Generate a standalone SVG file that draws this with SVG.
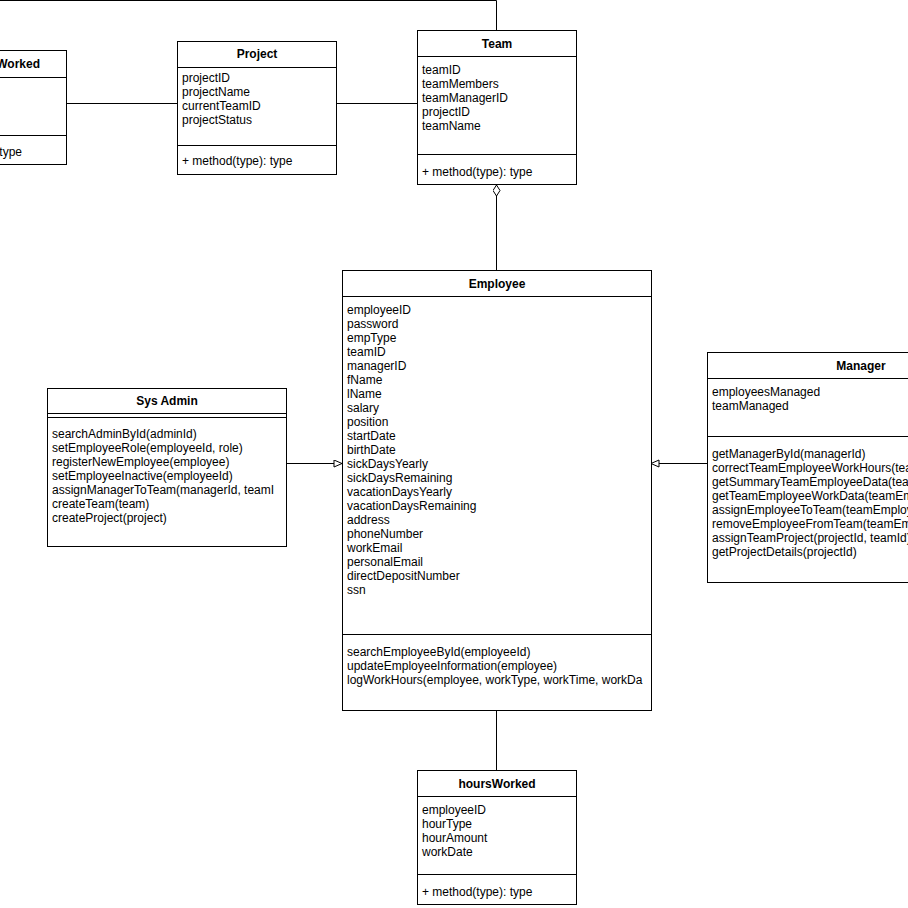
<svg xmlns="http://www.w3.org/2000/svg" width="908" height="908" viewBox="0 0 908 908">
<style>
.box{fill:#fff;stroke:#000;stroke-width:1}
.ln{stroke:#000;stroke-width:1;fill:none}
text{font-family:"Liberation Sans",Arial,sans-serif;font-size:12px;fill:#000}
.t{font-weight:bold;text-anchor:middle}
</style>
<defs>
<marker id="tri" markerWidth="12" markerHeight="10" refX="9" refY="4" orient="auto" markerUnits="userSpaceOnUse">
<path d="M1,0.5 L9,4 L1,7.5 Z" fill="#fff" stroke="#000" stroke-width="1"/>
</marker>
<marker id="dia" markerWidth="14" markerHeight="10" refX="12" refY="4" orient="auto" markerUnits="userSpaceOnUse">
<path d="M1,4 L6.5,0.5 L12,4 L6.5,7.5 Z" fill="#fff" stroke="#000" stroke-width="1"/>
</marker>
</defs>
<rect width="908" height="908" fill="#fff"/>
<g id="connectors">
<path class="ln" d="M0,0.5 H496.5 V30.5"/>
<path class="ln" d="M67,103.5 H177"/>
<path class="ln" d="M336,103.5 H417"/>
<path class="ln" d="M496.5,270 V185" marker-end="url(#dia)"/>
<path class="ln" d="M286,463.5 H342" marker-end="url(#tri)"/>
<path class="ln" d="M707,463.5 H651" marker-end="url(#tri)"/>
<path class="ln" d="M496.5,710 V770"/>
</g>
<g id="hoursWorkedLeft">
<rect class="box" x="-93.5" y="50.5" width="160" height="114"/>
<line class="ln" x1="-93" y1="77.5" x2="67" y2="77.5"/>
<line class="ln" x1="-93" y1="135.5" x2="67" y2="135.5"/>
<text x="40" y="68" style="font-weight:bold;text-anchor:end">hoursWorked</text>
<text x="22" y="156" style="text-anchor:end">+ method(type): type</text>
</g>
<g id="project">
<rect class="box" x="177.5" y="41.5" width="159" height="133"/>
<line class="ln" x1="177" y1="67.5" x2="336" y2="67.5"/>
<line class="ln" x1="177" y1="145.5" x2="336" y2="145.5"/>
<text class="t" x="257" y="58">Project</text>
<text x="182" y="82">projectID</text>
<text x="182" y="96">projectName</text>
<text x="182" y="110">currentTeamID</text>
<text x="182" y="124">projectStatus</text>
<text x="182" y="165">+ method(type): type</text>
</g>
<g id="team">
<rect class="box" x="417.5" y="30.5" width="159" height="154"/>
<line class="ln" x1="417" y1="56.5" x2="576" y2="56.5"/>
<line class="ln" x1="417" y1="154.5" x2="576" y2="154.5"/>
<text class="t" x="497" y="48">Team</text>
<text x="422" y="74">teamID</text>
<text x="422" y="88">teamMembers</text>
<text x="422" y="102">teamManagerID</text>
<text x="422" y="116">projectID</text>
<text x="422" y="130">teamName</text>
<text x="422" y="176">+ method(type): type</text>
</g>
<g id="employee">
<rect class="box" x="342.5" y="270.5" width="309" height="440"/>
<line class="ln" x1="342" y1="296.5" x2="651" y2="296.5"/>
<line class="ln" x1="342" y1="634.5" x2="651" y2="634.5"/>
<text class="t" x="497" y="288">Employee</text>
<text x="347" y="314">employeeID</text>
<text x="347" y="328">password</text>
<text x="347" y="342">empType</text>
<text x="347" y="356">teamID</text>
<text x="347" y="370">managerID</text>
<text x="347" y="384">fName</text>
<text x="347" y="398">lName</text>
<text x="347" y="412">salary</text>
<text x="347" y="426">position</text>
<text x="347" y="440">startDate</text>
<text x="347" y="454">birthDate</text>
<text x="347" y="468">sickDaysYearly</text>
<text x="347" y="482">sickDaysRemaining</text>
<text x="347" y="496">vacationDaysYearly</text>
<text x="347" y="510">vacationDaysRemaining</text>
<text x="347" y="524">address</text>
<text x="347" y="538">phoneNumber</text>
<text x="347" y="552">workEmail</text>
<text x="347" y="566">personalEmail</text>
<text x="347" y="580">directDepositNumber</text>
<text x="347" y="594">ssn</text>
<text x="347" y="656">searchEmployeeById(employeeId)</text>
<text x="347" y="670">updateEmployeeInformation(employee)</text>
<text x="347" y="684">logWorkHours(employee, workType, workTime, workDa</text>
</g>
<g id="sysAdmin">
<rect class="box" x="47.5" y="388.5" width="239" height="158"/>
<line class="ln" x1="47" y1="413.5" x2="286" y2="413.5"/>
<line class="ln" x1="47" y1="417.5" x2="286" y2="417.5"/>
<text class="t" x="167" y="405">Sys Admin</text>
<text x="52" y="438">searchAdminById(adminId)</text>
<text x="52" y="452">setEmployeeRole(employeeId, role)</text>
<text x="52" y="466">registerNewEmployee(employee)</text>
<text x="52" y="480">setEmployeeInactive(employeeId)</text>
<text x="52" y="494">assignManagerToTeam(managerId, teamI</text>
<text x="52" y="508">createTeam(team)</text>
<text x="52" y="522">createProject(project)</text>
</g>
<g id="manager">
<rect class="box" x="707.5" y="352.5" width="306" height="230"/>
<line class="ln" x1="707" y1="378.5" x2="1014" y2="378.5"/>
<line class="ln" x1="707" y1="436.5" x2="1014" y2="436.5"/>
<text class="t" x="861" y="370">Manager</text>
<text x="712" y="396">employeesManaged</text>
<text x="712" y="410">teamManaged</text>
<text x="712" y="458">getManagerById(managerId)</text>
<text x="712" y="472">correctTeamEmployeeWorkHours(teamEmployee)</text>
<text x="712" y="486">getSummaryTeamEmployeeData(teamEmployee)</text>
<text x="712" y="500">getTeamEmployeeWorkData(teamEmployee)</text>
<text x="712" y="514">assignEmployeeToTeam(teamEmployee)</text>
<text x="712" y="528">removeEmployeeFromTeam(teamEmployee)</text>
<text x="712" y="542">assignTeamProject(projectId, teamId)</text>
<text x="712" y="556">getProjectDetails(projectId)</text>
</g>
<g id="hoursWorked">
<rect class="box" x="417.5" y="770.5" width="159" height="134"/>
<line class="ln" x1="417" y1="796.5" x2="576" y2="796.5"/>
<line class="ln" x1="417" y1="874.5" x2="576" y2="874.5"/>
<text class="t" x="497" y="788">hoursWorked</text>
<text x="422" y="814">employeeID</text>
<text x="422" y="828">hourType</text>
<text x="422" y="842">hourAmount</text>
<text x="422" y="856">workDate</text>
<text x="422" y="896">+ method(type): type</text>
</g>
</svg>
